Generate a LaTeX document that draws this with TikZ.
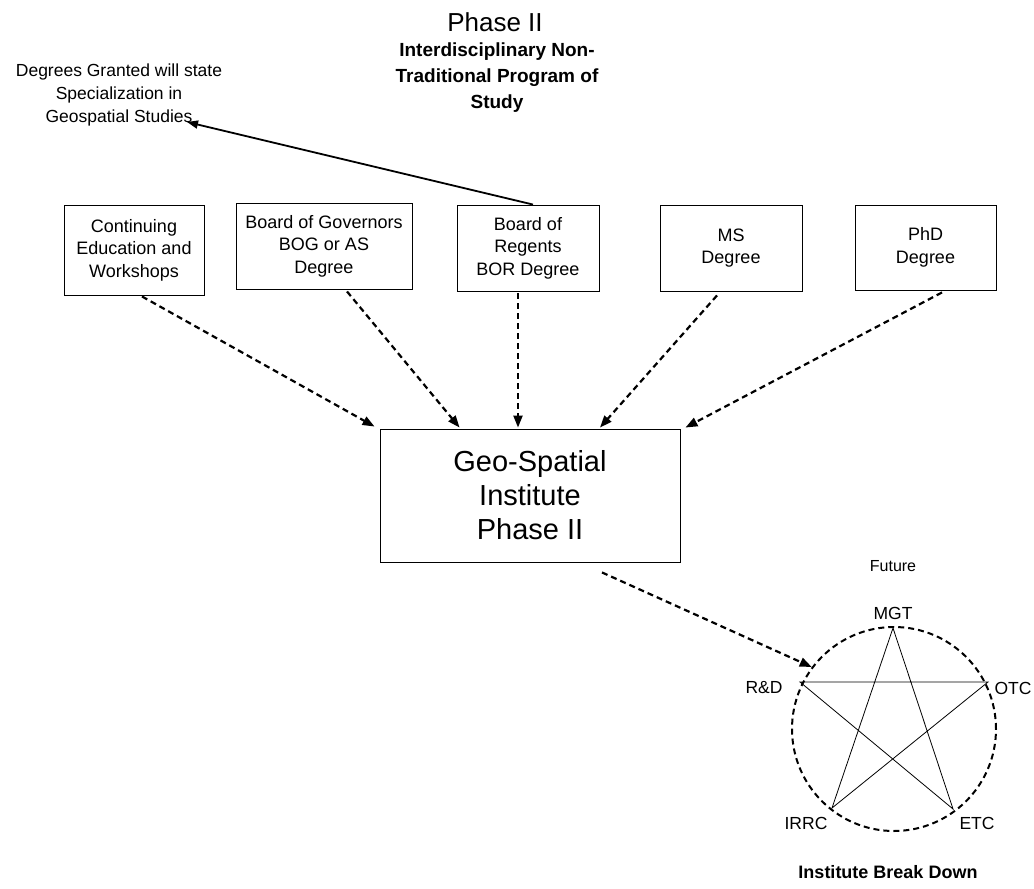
\documentclass[tikz,border=0pt]{standalone}
\usepackage{fontspec}
\setmainfont{Liberation Sans}
\usetikzlibrary{arrows.meta,calc}
\begin{document}
\begin{tikzpicture}[x=1pt,y=-1pt,
  box/.style={draw, line width=0.9pt, inner sep=0pt, align=center, font=\fontsize{18}{22.5}\selectfont},
  dasharrow/.style={line width=2.2pt, dash pattern=on 6pt off 4pt, -{Triangle[length=12pt,width=9pt]}},
  solidarrow/.style={line width=1.8pt, -{Triangle[length=11pt,width=8pt]}},
  lab/.style={inner sep=0pt, font=\fontsize{17.5}{20}\selectfont},
  thinline/.style={line width=0.8pt}]
\useasboundingbox (0,0) rectangle (1034,889);

% titles
\node[inner sep=0pt, font=\fontsize{26}{30}\selectfont] (title) at (495,22) {Phase II};
\node[inner sep=0pt, align=center, font=\bfseries\fontsize{19}{26}\selectfont] (sub) at (497,78) {Interdisciplinary Non-\\Traditional Program of\\Study};
\node[inner sep=0pt, align=center, font=\fontsize{17.5}{23}\selectfont] (deg) at (119,95) {Degrees Granted will state\\Specialization in\\Geospatial Studies};
\coordinate (degtip) at (187,122);

% top boxes
\node[box, minimum width=140pt, minimum height=90pt] (b1) at (134,250) {Continuing\\Education and\\Workshops};
\node[box, minimum width=176pt, minimum height=86pt] (b2) at (324,246) {Board of Governors\\BOG or AS\\Degree};
\node[box, minimum width=142pt, minimum height=86pt] (b3) at (528,248) {Board of\\Regents\\BOR Degree};
\node[box, minimum width=142pt, minimum height=86pt] (b4) at (731,248) {MS\\Degree};
\node[box, minimum width=141pt, minimum height=85pt] (b5) at (925.5,247.5) {PhD\\Degree};

% main box
\node[draw, line width=0.9pt, inner sep=0pt, minimum width=300pt, minimum height=133pt, align=center, font=\fontsize{29}{34}\selectfont] (m) at (530,495.5) {Geo-Spatial\\Institute\\Phase II};

% arrows to main
\draw[dasharrow] ([xshift=8pt,yshift=-1pt]b1.south) -- ([xshift=-5pt,yshift=2pt]m.north west);
\draw[dasharrow] ([xshift=23pt,yshift=-2pt]b2.south) -- ([xshift=80pt,yshift=1pt]m.north west);
\draw[dasharrow] ([xshift=-10pt,yshift=-2pt]b3.south) -- ([xshift=-12pt,yshift=1pt]m.north);
\draw[dasharrow] ([xshift=-14pt,yshift=-4pt]b4.south) -- ([xshift=70pt,yshift=1pt]m.north);
\draw[dasharrow] ([xshift=16.5pt,yshift=-2pt]b5.south) -- ([xshift=5pt,yshift=1pt]m.north east);

% arrow to text
\draw[solidarrow] ([xshift=5pt]b3.north) -- (degtip);

% circle and star
\node[circle, draw, line width=2pt, dash pattern=on 6pt off 4pt, minimum size=204pt, inner sep=0pt] (c) at (894,729) {};
\draw[dasharrow] ([xshift=72pt,yshift=-10pt]m.south) -- (c.143);

\coordinate (pmgt) at (893,628);
\coordinate (prd) at (800,682);
\coordinate (potc) at (988,682);
\coordinate (pirrc) at (832,808);
\coordinate (petc) at (953,809);
\draw[thinline] (pmgt) -- (pirrc) -- (potc) -- (prd) -- (petc) -- cycle;

\node[lab] (lmgt) at (893,613) {MGT};
\node[lab] (lrd) at (764,688) {R\&D};
\node[lab] (lotc) at (1013,688) {OTC};
\node[lab] (lirrc) at (806,823) {IRRC};
\node[lab] (letc) at (977,823) {ETC};
\node[inner sep=0pt, font=\fontsize{16}{18}\selectfont] (future) at (893,566) {Future};
\node[inner sep=0pt, font=\bfseries\fontsize{18}{20}\selectfont] (ibd) at (888,872) {Institute Break Down};
\end{tikzpicture}
\end{document}
